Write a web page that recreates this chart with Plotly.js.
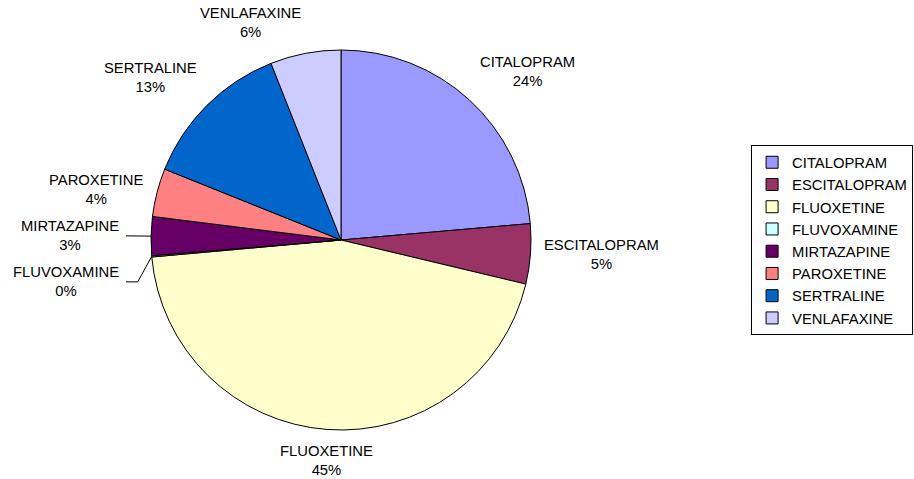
<!DOCTYPE html>
<html><head><meta charset="utf-8">
<script src="https://cdn.plot.ly/plotly-3.0.1.min.js"></script>
<style>html,body{margin:0;padding:0;background:#fff}#chart{width:914px;height:479px}</style>
</head><body><div id="chart"></div>
<script>
const drugs = ["CITALOPRAM","ESCITALOPRAM","FLUOXETINE","FLUVOXAMINE","MIRTAZAPINE","PAROXETINE","SERTRALINE","VENLAFAXINE"];
const shares = [23.6, 5.1, 44.8, 0.1, 3.3, 4.1, 12.9, 6.0];
const colors = ["#9999FF","#993366","#FFFFCC","#CCFFFF","#660066","#FF8080","#0066CC","#CCCCFF"];

const W = 914, H = 479;
const CX = 341, CY = 240, R = 190;          // pie geometry in px
const FONT = "Liberation Sans, Arial, sans-serif";
const FS = 14.8;
const GAP = 12, LABEL_H = 46, PUSH = 30;

const trace = {
  type: "pie",
  labels: drugs,
  values: shares,
  sort: false,
  direction: "clockwise",
  rotation: 0,
  marker: {colors: colors, line: {color: "#000", width: 1}},
  textinfo: "none",
  hoverinfo: "label+percent",
  domain: {x: [(CX - R) / W, (CX + R) / W], y: [1 - (CY + R) / H, 1 - (CY - R) / H]}
};

// label placement derived from slice angles
const total = shares.reduce((a, b) => a + b, 0);
let cum = 0;
const labs = shares.map((v, i) => {
  const th = (cum + v / 2) / total * 2 * Math.PI;
  cum += v;
  const s = Math.sin(th), c = Math.cos(th);
  return {i, th, s, c, px: CX + (R + GAP) * s, py: CY - (R + GAP) * c,
          ex: CX + R * s, ey: CY - R * c, moved: false,
          text: drugs[i] + "<br>" + Math.round(v / total * 100) + "%"};
});
// resolve overlaps on the left side (sorted top to bottom)
const left = labs.filter(l => l.s < -0.3).sort((a, b) => a.py - b.py);
for (let k = 1; k < left.length; k++) {
  const need = left[k - 1].py + LABEL_H;
  if (left[k].py < need) {
    left[k].py = need;
    left[k].moved = true;
    left[k - 1].moved = true;
  }
}
const annotations = [], shapes = [];
labs.forEach(l => {
  let xa = l.s > 0.15 ? "left" : (l.s < -0.15 ? "right" : "center");
  let ya = l.c > 0.3 ? "bottom" : (l.c < -0.3 ? "top" : "middle");
  let px = l.px;
  if (l.moved) {
    px = CX - R - PUSH;
    const lineEnd = px + 5;
    const elbow = l.ex - 14;
    const path = Math.abs(l.py - l.ey) < 3
      ? `M${l.ex / W},${1 - l.ey / H} L${lineEnd / W},${1 - l.py / H}`
      : `M${l.ex / W},${1 - l.ey / H} L${elbow / W},${1 - l.py / H} L${lineEnd / W},${1 - l.py / H}`;
    shapes.push({type: "path", xref: "paper", yref: "paper", path: path, line: {color: "#000", width: 1}});
  }
  annotations.push({
    xref: "paper", yref: "paper", x: px / W, y: 1 - l.py / H,
    xanchor: xa, yanchor: ya, text: l.text, showarrow: false, align: "center",
    font: {family: FONT, size: FS, color: "#000"}
  });
});

const layout = {
  width: W, height: H,
  margin: {l: 0, r: 0, t: 0, b: 0},
  paper_bgcolor: "#fff",
  font: {family: FONT, size: FS, color: "#000"},
  showlegend: true,
  legend: {x: 0.999, y: 0.697, xanchor: "right", yanchor: "top", bordercolor: "#000", borderwidth: 1,
           bgcolor: "#fff", font: {family: FONT, size: FS}},
  annotations: annotations,
  shapes: shapes
};
Plotly.newPlot("chart", [trace], layout, {displayModeBar: false, staticPlot: true});
</script></body></html>
